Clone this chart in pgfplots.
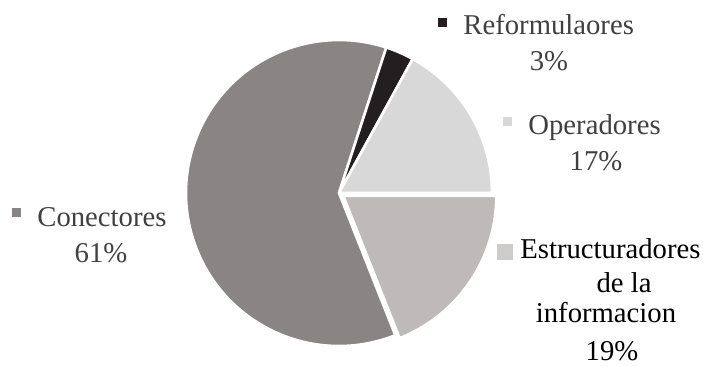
\documentclass[border=0pt]{standalone}
\usepackage{fontspec}
\setmainfont{Liberation Serif}
\usepackage{pgfplots}
\usepackage{pgfplotstable}
\pgfplotsset{compat=1.18}
\definecolor{cCon}{HTML}{898584}
\definecolor{cRef}{HTML}{231F20}
\definecolor{cOpe}{HTML}{D9D8D8}
\definecolor{cEst}{HTML}{BEBAB9}
\definecolor{txt}{HTML}{404040}
\newcommand\LBL{\fontsize{14.35pt}{17pt}\selectfont}
% pie data (percent)
\pgfplotstableread{
name value
Reformulaores 3
Operadores 17
Estructuradores 19
Conectores 61
}\piedata
\begin{document}
\begin{tikzpicture}
\useasboundingbox (0pt,0pt) rectangle (351.5pt,182.5pt);
\pgfplotstablegetelem{0}{value}\of\piedata \let\vA\pgfplotsretval
\pgfplotstablegetelem{1}{value}\of\piedata \let\vB\pgfplotsretval
\pgfplotstablegetelem{2}{value}\of\piedata \let\vC\pgfplotsretval
\pgfplotstablegetelem{3}{value}\of\piedata \let\vD\pgfplotsretval
\pgfmathsetmacro\aA{72}
\pgfmathsetmacro\aB{\aA-\vA*3.6}
\pgfmathsetmacro\aC{\aB-\vB*3.6}
\pgfmathsetmacro\aD{\aC-\vC*3.6}
\pgfmathsetmacro\aE{\aD-\vD*3.6}
\pgfmathsetmacro\aM{(\aC+\aD)/2}
\begin{axis}[at={(169.5pt,86pt)}, anchor=origin, x=76.5pt, y=76.5pt,
  xmin=-1, xmax=1, ymin=-1, ymax=1, hide axis, clip=false, disabledatascaling]
\filldraw[fill=cCon, draw=white, line width=1.3pt, line join=round]
  (axis cs:0,0) -- (axis cs:{cos(\aD)},{sin(\aD)}) arc[start angle=\aD, end angle=\aE, radius=76.5pt] -- cycle;
\filldraw[fill=cRef, draw=white, line width=1.3pt, line join=round]
  (axis cs:0,0) -- (axis cs:{cos(\aA)},{sin(\aA)}) arc[start angle=\aA, end angle=\aB, radius=76.5pt] -- cycle;
\filldraw[fill=cOpe, draw=white, line width=1.3pt, line join=round]
  (axis cs:0,0) -- (axis cs:{cos(\aB)},{sin(\aB)}) arc[start angle=\aB, end angle=\aC, radius=76.5pt] -- cycle;
\begin{scope}[shift={(\aM:2.6pt)}]
\filldraw[fill=cEst, draw=white, line width=1.3pt, line join=round]
  (axis cs:0,0) -- (axis cs:{cos(\aC)},{sin(\aC)}) arc[start angle=\aC, end angle=\aD, radius=76.5pt] -- cycle;
\end{scope}
\end{axis}
% labels
\node[anchor=base west, inner sep=0, text=txt, font=\LBL] at (231.5pt,165pt) {Reformulaores};
\node[anchor=base, inner sep=0, text=txt, font=\LBL] at (274.5pt,147pt) {3\%};
\node[fill=cRef, minimum size=4.5pt, inner sep=0] at (221pt,171pt) {};
\node[anchor=base west, inner sep=0, text=txt, font=\LBL] at (264pt,115pt) {Operadores};
\node[anchor=base, inner sep=0, text=txt, font=\LBL] at (298pt,97pt) {17\%};
\node[fill=cOpe, minimum size=4.5pt, inner sep=0] at (253.75pt,121.75pt) {};
\node[anchor=base west, inner sep=0, text=txt, font=\LBL] at (18.5pt,69.5pt) {Conectores};
\node[anchor=base, inner sep=0, text=txt, font=\LBL] at (50.5pt,51.5pt) {61\%};
\node[fill=cCon, minimum size=4.5pt, inner sep=0] at (8.25pt,76pt) {};
\node[anchor=base west, inner sep=0, text=black, font=\LBL] at (260pt,53pt) {Estructuradores};
\node[anchor=base, inner sep=0, text=black, font=\LBL] at (312pt,36pt) {de la};
\node[anchor=base, inner sep=0, text=black, font=\LBL] at (303pt,21pt) {informacion};
\node[anchor=base, inner sep=0, text=black, font=\LBL] at (306pt,2pt) {19\%};
\node[fill=cEst!75!white, minimum size=8pt, inner sep=0] at (252.5pt,56.25pt) {};
\end{tikzpicture}
\end{document}
